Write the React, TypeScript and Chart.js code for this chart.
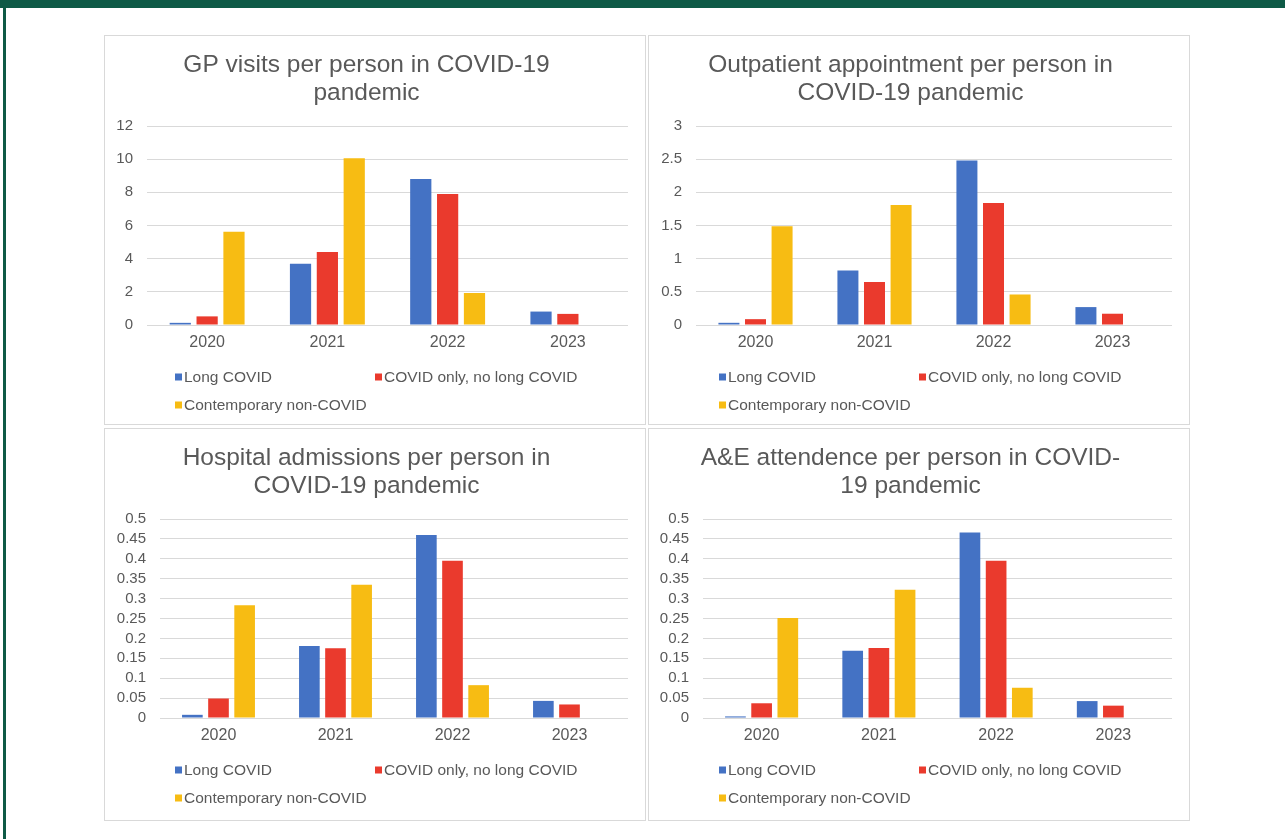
import React, { useEffect, useRef } from 'react';
import { Chart, registerables } from 'chart.js';

Chart.register(...registerables);

// ---------- data ----------
const categories = ['2020', '2021', '2022', '2023'];
const seriesNames = ['Long COVID', 'COVID only, no long COVID', 'Contemporary non-COVID'];

const gpLong = [0.13, 3.7, 8.8, 0.81];
const gpCovidOnly = [0.52, 4.4, 7.9, 0.67];
const gpNonCovid = [5.63, 10.05, 1.93, 0];

const opLong = [0.033, 0.82, 2.48, 0.27];
const opCovidOnly = [0.088, 0.65, 1.84, 0.17];
const opNonCovid = [1.49, 1.81, 0.46, 0];

const haLong = [0.008, 0.181, 0.46, 0.043];
const haCovidOnly = [0.049, 0.175, 0.395, 0.034];
const haNonCovid = [0.283, 0.335, 0.0825, 0];

const aeLong = [0.004, 0.169, 0.466, 0.0425];
const aeCovidOnly = [0.037, 0.176, 0.395, 0.031];
const aeNonCovid = [0.251, 0.322, 0.076, 0];

const gpTitle = ['GP visits per person in COVID-19', 'pandemic'];
const opTitle = ['Outpatient appointment per person in', 'COVID-19 pandemic'];
const haTitle = ['Hospital admissions per person in', 'COVID-19 pandemic'];
const aeTitle = ['A&E attendence per person in COVID-', '19 pandemic'];

// ---------- style ----------
const FONT = '"Liberation Sans", Arial, Helvetica, sans-serif';
const TEXT = '#595959';
const GRID = '#d9d9d9';
const COLORS = ['#4472C4', '#EA3A2D', '#F7BC13'];
const FRAME = '#0e5a46';

type PanelProps = {
  left: number;
  top: number;
  h: number;
  title: string[];
  series: number[][];
  max: number;
  step: number;
  axisWidth: number;
};

function BarPanel({ left, top, h, title, series, max, step, axisWidth }: PanelProps) {
  const ref = useRef<HTMLCanvasElement | null>(null);

  useEffect(() => {
    if (!ref.current) return;
    const legendPlugin = {
      id: 'excelLegend',
      afterDraw(chart: any) {
        const ctx = chart.ctx as CanvasRenderingContext2D;
        ctx.save();
        ctx.font = `15.5px ${FONT}`;
        ctx.textBaseline = 'middle';
        ctx.textAlign = 'left';
        const pos = [
          [70, 341],
          [270, 341],
          [70, 369],
        ];
        chart.data.datasets.forEach((ds: any, i: number) => {
          const [x, y] = pos[i];
          ctx.fillStyle = ds.backgroundColor;
          ctx.fillRect(x, y - 3.5, 7, 7);
          ctx.fillStyle = TEXT;
          ctx.fillText(ds.label, x + 9, y + 1);
        });
        ctx.restore();
      },
    };

    const chart = new Chart(ref.current, {
      type: 'bar',
      data: {
        labels: categories,
        datasets: series.map((vals, i) => ({
          label: seriesNames[i],
          data: vals,
          backgroundColor: COLORS[i],
          borderWidth: 0,
          categoryPercentage: 0.67,
          barPercentage: 0.79,
        })),
      },
      options: {
        responsive: false,
        animation: false,
        devicePixelRatio: 1,
        layout: { padding: { left: 0, right: 17, top: 0, bottom: 0 } },
        plugins: {
          legend: { display: false },
          tooltip: { enabled: false },
          title: {
            display: true,
            text: title,
            color: TEXT,
            font: { family: FONT, size: 24.5, weight: 'normal', lineHeight: 1.143 },
            padding: { top: 15, bottom: 19 },
          },
        },
        scales: {
          x: {
            grid: { display: false, drawTicks: false },
            border: { display: false },
            ticks: {
              color: TEXT,
              font: { family: FONT, size: 16 },
              padding: 8,
              maxRotation: 0,
            },
            afterFit: (s: any) => {
              s.height = h - 289;
            },
          },
          y: {
            min: 0,
            max,
            grid: { color: GRID, drawTicks: false, lineWidth: 1 },
            border: { display: false },
            ticks: {
              stepSize: step,
              autoSkip: false,
              color: TEXT,
              font: { family: FONT, size: 15 },
              padding: 14,
              callback: (v: any) => String(Number(Number(v).toFixed(3))),
            },
            afterFit: (s: any) => {
              s.width = axisWidth;
            },
          },
        },
      },
      plugins: [legendPlugin],
    } as any);

    return () => chart.destroy();
  }, []);

  return (
    <div
      style={{
        position: 'absolute',
        left,
        top,
        width: 540,
        height: h,
        border: `1px solid ${GRID}`,
        background: '#fff',
      }}
    >
      <canvas ref={ref} width={540} height={h} style={{ display: 'block' }} />
    </div>
  );
}

export default function App() {
  return (
    <div
      style={{
        position: 'absolute',
        left: 0,
        top: 0,
        width: 1285,
        height: 839,
        background: '#fff',
        overflow: 'hidden',
      }}
    >
      <div style={{ position: 'absolute', left: 0, top: 0, width: 1285, height: 8, background: FRAME }} />
      <div style={{ position: 'absolute', left: 3, top: 0, width: 3, height: 839, background: FRAME }} />

      <BarPanel left={104} top={35} h={388} title={gpTitle} series={[gpLong, gpCovidOnly, gpNonCovid]} max={12} step={2} axisWidth={42} />
      <BarPanel left={648} top={35} h={388} title={opTitle} series={[opLong, opCovidOnly, opNonCovid]} max={3} step={0.5} axisWidth={47} />
      <BarPanel left={104} top={428} h={391} title={haTitle} series={[haLong, haCovidOnly, haNonCovid]} max={0.5} step={0.05} axisWidth={55} />
      <BarPanel left={648} top={428} h={391} title={aeTitle} series={[aeLong, aeCovidOnly, aeNonCovid]} max={0.5} step={0.05} axisWidth={54} />
    </div>
  );
}
